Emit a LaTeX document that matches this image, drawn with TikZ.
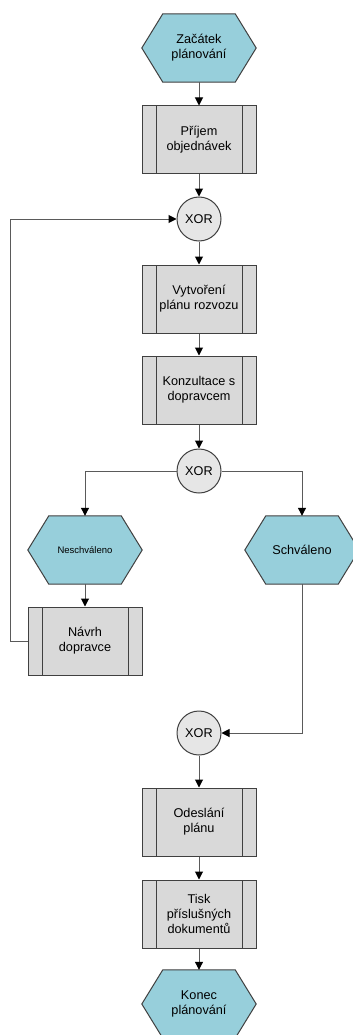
\documentclass[tikz,border=0pt]{standalone}
\usepackage{fontspec}
\setmainfont{Liberation Sans}
\usetikzlibrary{arrows.meta,backgrounds}

\definecolor{evtfill}{HTML}{97CFDB}
\definecolor{funfill}{HTML}{D9D9D9}
\definecolor{xorfill}{HTML}{E6E6E6}
\definecolor{edge}{HTML}{404040}
\definecolor{wire}{HTML}{5A5A5A}

\tikzset{
  lbl/.style={font=\fontsize{12.7}{15}\selectfont, align=center, text=black},
  evt/.style={lbl, rectangle, minimum width=114pt, minimum height=68pt, inner sep=0pt},
  fun/.style={lbl, rectangle, draw=edge, line width=1pt, fill=funfill,
    minimum width=114pt, minimum height=68pt, inner sep=0pt,
    path picture={
      \draw[edge, line width=1pt]
        ([xshift=14pt]path picture bounding box.north west) --
        ([xshift=14pt]path picture bounding box.south west)
        ([xshift=-14pt]path picture bounding box.north east) --
        ([xshift=-14pt]path picture bounding box.south east);
    }},
  xor/.style={lbl, circle, draw=edge, line width=1pt, fill=xorfill,
    minimum size=44pt, inner sep=0pt},
  arr/.style={draw=wire, line width=1pt,
    -{Triangle[width=8pt,length=8pt,color=black]}},
  wireline/.style={draw=wire, line width=1pt},
  hexa/.style={fill=evtfill, draw=edge, line width=1pt, line join=miter}
}

% hexagonal event outline behind a named event node
\newcommand\evthex[1]{%
  \path[hexa] (#1.west) -- ([xshift=21pt]#1.north west) --
    ([xshift=-21pt]#1.north east) -- (#1.east) --
    ([xshift=-21pt]#1.south east) -- ([xshift=21pt]#1.south west) -- cycle;}

\begin{document}
\begin{tikzpicture}[x=1pt,y=-1pt]
\useasboundingbox (0,0) rectangle (353,1035);
\clip (0,0) rectangle (353,1035);

% events
\node[evt] (start) at (199,48) {Začátek\\plánování};
\node[evt, font=\fontsize{9.5}{11}\selectfont] (nes) at (85,550) {Neschváleno};
\node[evt] (sch) at (302,550) {Schváleno};
\node[evt] (end) at (199,1004) {Konec\\plánování};

% functions
\node[fun] (prijem) at (199,140) {Příjem\\objednávek};
\node[fun] (plan) at (199,299) {Vytvoření\\plánu rozvozu};
\node[fun] (konz) at (199,390) {Konzultace s\\dopravcem};
\node[fun] (navrh) at (85,641) {Návrh\\dopravce};
\node[fun] (odes) at (199,822) {Odeslání\\plánu};
\node[fun] (tisk) at (199,914) {Tisk\\příslušných\\dokumentů};

% connectors
\node[xor] (x1) at (199,219) {XOR};
\node[xor] (x2) at (199,471) {XOR};
\node[xor] (x3) at (199,733) {XOR};

\begin{scope}[on background layer]
  \evthex{start}
  \evthex{nes}
  \evthex{sch}
  \evthex{end}
\end{scope}

% flow
\draw[arr] (start.south) -- (prijem.north);
\draw[arr] (prijem.south) -- (x1.north);
\draw[arr] (x1.south) -- (plan.north);
\draw[arr] (plan.south) -- (konz.north);
\draw[arr] (konz.south) -- (x2.north);
\draw[arr] (x2.west) -| (nes.north);
\draw[arr] (x2.east) -| (sch.north);
\draw[arr] (nes.south) -- (navrh.north);
\draw[arr] (navrh.west) -- ++(-17,0) |- (x1.west);
\draw[arr] (sch.south) |- (x3.east);
\draw[arr] (x3.south) -- (odes.north);
\draw[arr] (odes.south) -- (tisk.north);
\draw[arr] (tisk.south) -- (end.north);
\end{tikzpicture}
\end{document}
